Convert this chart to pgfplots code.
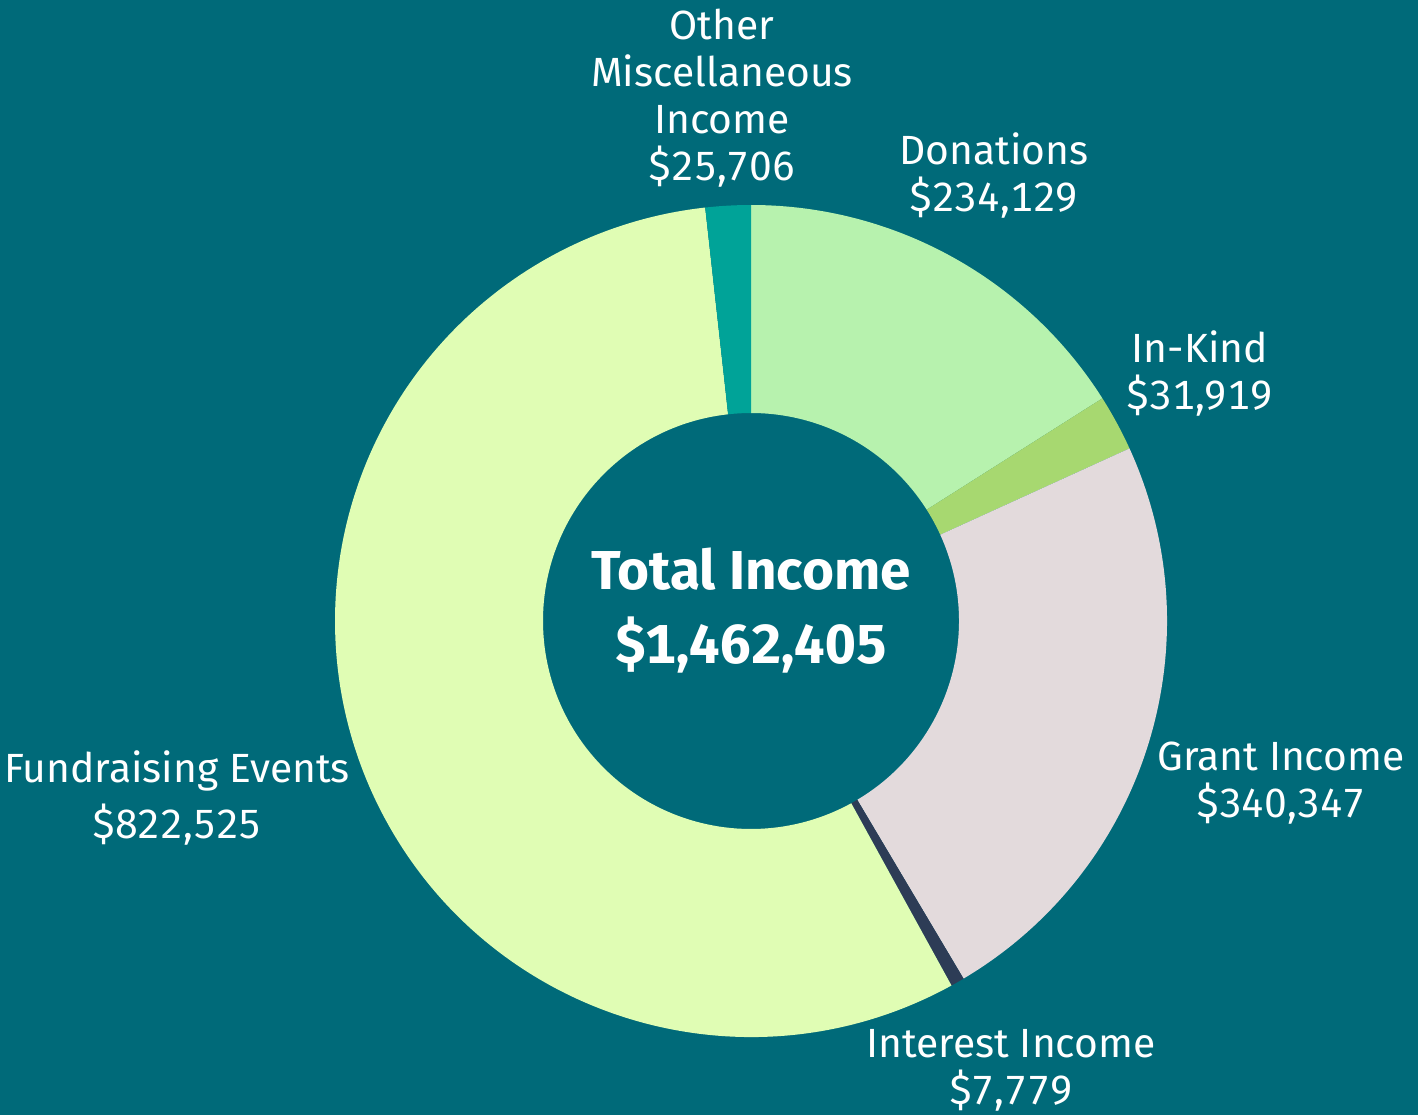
\documentclass[border=0pt]{standalone}
\usepackage{pgfplots}
\pgfplotsset{compat=1.18}
\usepackage{fontspec}
\setmainfont{Fira Sans}[Numbers=Monospaced]
\definecolor{bg}{HTML}{006A79}
\definecolor{cDon}{HTML}{B7F2AE}
\definecolor{cKind}{HTML}{A7D870}
\definecolor{cGrant}{HTML}{E3DADC}
\definecolor{cInt}{HTML}{2D3C56}
\definecolor{cFund}{HTML}{E0FDB4}
\definecolor{cOther}{HTML}{00A398}
% values in thousands of dollars
\def\vDon{234.129}
\def\vKind{31.919}
\def\vGrant{340.347}
\def\vInt{7.779}
\def\vFund{822.525}
\def\vOther{25.706}
\newcommand\donutslice[3]{%
  \fill[#3] (axis cs:{4.16*cos(#1)},{4.16*sin(#1)}) arc[start angle=#1,end angle=#2,radius=4.16]
    -- (axis cs:{2.08*cos(#2)},{2.08*sin(#2)}) arc[start angle=#2,end angle=#1,radius=2.08] -- cycle;}
\begin{document}
\begin{tikzpicture}
\pgfmathsetmacro\tot{\vDon+\vKind+\vGrant+\vInt+\vFund+\vOther}
\pgfmathsetmacro\aO{90}
\pgfmathsetmacro\aA{\aO-\vDon/\tot*360}
\pgfmathsetmacro\aB{\aA-\vKind/\tot*360}
\pgfmathsetmacro\aC{\aB-\vGrant/\tot*360}
\pgfmathsetmacro\aD{\aC-\vInt/\tot*360}
\pgfmathsetmacro\aE{\aD-\vFund/\tot*360}
\pgfmathsetmacro\aF{-270}
\begin{axis}[x=1cm,y=1cm,xmin=-7.51,xmax=6.67,ymin=-4.94,ymax=6.21,
  hide axis,clip=false]
\fill[bg] (axis cs:-7.51,-4.94) rectangle (axis cs:6.67,6.21);
\donutslice{\aO}{\aA}{cDon}
\donutslice{\aA}{\aB}{cKind}
\donutslice{\aB}{\aC}{cGrant}
\donutslice{\aC}{\aD}{cInt}
\donutslice{\aD}{\aE}{cFund}
\donutslice{\aE}{\aF}{cOther}
\tikzset{lbl/.style={text=white,align=center,inner sep=0pt,font=\fontsize{11.6}{13.4}\selectfont}}
\node[lbl] at (axis cs:-0.29,5.23) {Other\\Miscellaneous\\Income\\\$25,706};
\node[lbl] at (axis cs:2.43,4.455) {Donations\\\$234,129};
\node[lbl] at (axis cs:4.49,2.475) {In-Kind\\\$31,919};
\node[lbl] at (axis cs:5.30,-1.62) {Grant Income\\\$340,347};
\node[lbl] at (axis cs:2.60,-4.49) {Interest Income\\\$7,779};
\node[lbl,font=\fontsize{11.6}{16.2}\selectfont] at (axis cs:-5.74,-1.77) {Fundraising Events\\\$822,525};
\node[text=white,inner sep=0pt,font=\fontsize{15.6}{18}\selectfont\bfseries] at (axis cs:0,0.52) {Total Income};
\node[text=white,inner sep=0pt,font=\fontsize{15.6}{18}\selectfont\bfseries] at (axis cs:0,-0.24) {\$1,462,405};
\end{axis}
\pgfresetboundingbox
\useasboundingbox (current axis.south west) rectangle (current axis.north east);
\end{tikzpicture}
\end{document}
